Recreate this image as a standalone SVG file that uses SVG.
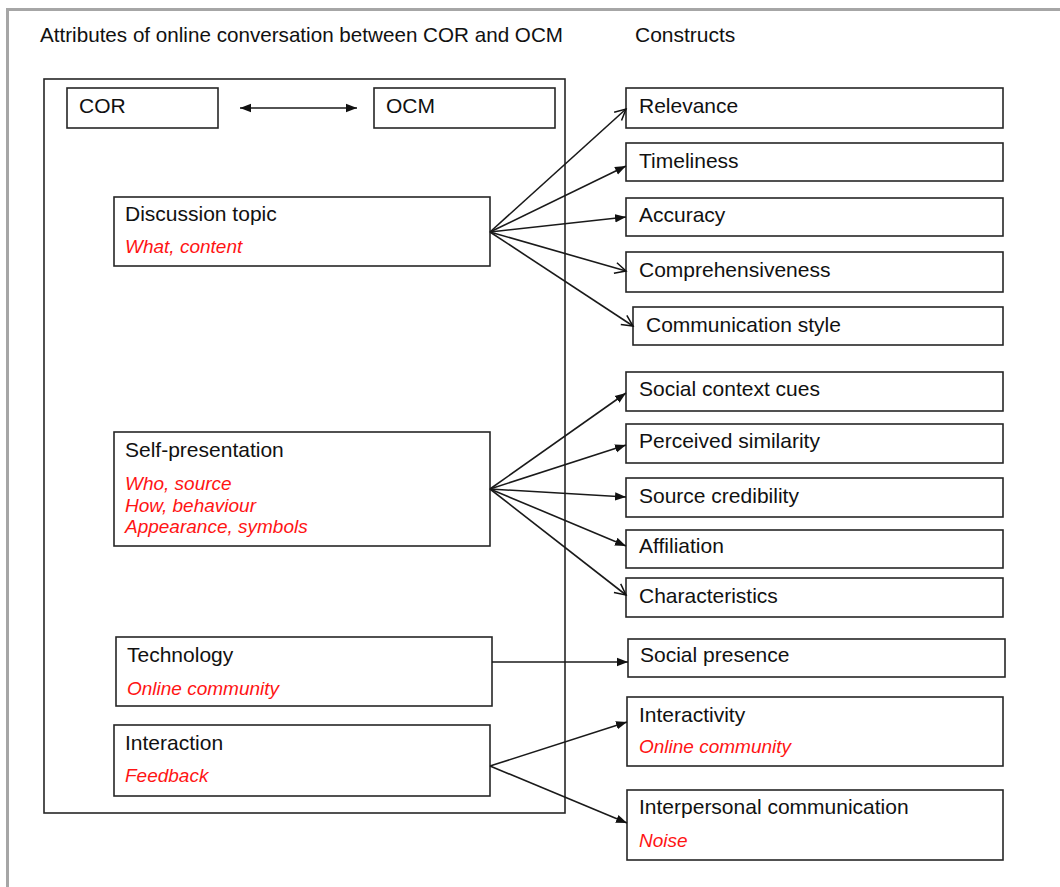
<svg xmlns="http://www.w3.org/2000/svg" width="1060" height="887" viewBox="0 0 1060 887">
  <style>
    .box { fill: #ffffff; stroke: #262626; stroke-width: 1.6; }
    .lbl { font-family: "Liberation Sans", Arial, sans-serif; font-size: 21px; fill: #111111; }
    .sub { font-family: "Liberation Sans", Arial, sans-serif; font-size: 19px; font-style: italic; fill: #ff1414; }
    .edge { fill: none; stroke: #1a1a1a; stroke-width: 1.6; }
    .filled { marker-end: url(#head); }
    .open { marker-end: url(#vhead); }
  </style>
  <defs>
    <marker id="head" markerUnits="userSpaceOnUse" markerWidth="12" markerHeight="10" refX="11" refY="5" orient="auto">
      <path d="M0,0.8 L11,5 L0,9.2 z" fill="#111111"/>
    </marker>
    <marker id="headStart" markerUnits="userSpaceOnUse" markerWidth="12" markerHeight="10" refX="1" refY="5" orient="auto">
      <path d="M12,0.8 L1,5 L12,9.2 z" fill="#111111"/>
    </marker>
    <marker id="vhead" markerUnits="userSpaceOnUse" markerWidth="14" markerHeight="14" refX="12" refY="7" orient="auto">
      <path d="M1,1.5 L12,7 L1,12.5" fill="none" stroke="#111111" stroke-width="1.5"/>
    </marker>
  </defs>

  <rect width="1060" height="887" fill="#ffffff"/>
  <!-- page frame -->
  <path d="M7.5,887 V9.5 H1060" fill="none" stroke="#a6a6a6" stroke-width="3"/>

  <!-- column headings -->
  <text class="lbl" x="40" y="42" textLength="523" lengthAdjust="spacingAndGlyphs">Attributes of online conversation between COR and OCM</text>
  <text class="lbl" x="635" y="42">Constructs</text>

  <!-- attribute container -->
  <rect id="attributes-frame" class="box" x="44" y="79" width="521" height="734" fill="none"/>

  <g id="cor">
    <rect class="box" x="67" y="88" width="151" height="40"/>
    <text class="lbl" x="79" y="113">COR</text>
  </g>
  <g id="ocm">
    <rect class="box" x="374" y="88" width="181" height="40"/>
    <text class="lbl" x="386" y="113">OCM</text>
  </g>

  <g id="discussion-topic">
    <rect class="box" x="114" y="197" width="376" height="69"/>
    <text class="lbl" x="125" y="221">Discussion topic</text>
    <text class="sub" x="125" y="253">What, content</text>
  </g>
  <g id="self-presentation">
    <rect class="box" x="114" y="432" width="376" height="114"/>
    <text class="lbl" x="125" y="457">Self-presentation</text>
    <text class="sub" x="125" y="490">Who, source</text>
    <text class="sub" x="125" y="512">How, behaviour</text>
    <text class="sub" x="125" y="533">Appearance, symbols</text>
  </g>
  <g id="technology">
    <rect class="box" x="116" y="637" width="376" height="69"/>
    <text class="lbl" x="127" y="662">Technology</text>
    <text class="sub" x="127" y="695">Online community</text>
  </g>
  <g id="interaction">
    <rect class="box" x="114" y="725" width="376" height="71"/>
    <text class="lbl" x="125" y="750">Interaction</text>
    <text class="sub" x="125" y="782">Feedback</text>
  </g>

  <!-- constructs -->
  <g id="relevance">
    <rect class="box" x="626" y="88" width="377" height="40"/>
    <text class="lbl" x="639" y="113">Relevance</text>
  </g>
  <g id="timeliness">
    <rect class="box" x="626" y="143" width="377" height="38"/>
    <text class="lbl" x="639" y="168">Timeliness</text>
  </g>
  <g id="accuracy">
    <rect class="box" x="626" y="198" width="377" height="38"/>
    <text class="lbl" x="639" y="222">Accuracy</text>
  </g>
  <g id="comprehensiveness">
    <rect class="box" x="626" y="252" width="377" height="40"/>
    <text class="lbl" x="639" y="277">Comprehensiveness</text>
  </g>
  <g id="communication-style">
    <rect class="box" x="633" y="307" width="370" height="38"/>
    <text class="lbl" x="646" y="332">Communication style</text>
  </g>
  <g id="social-context-cues">
    <rect class="box" x="626" y="372" width="377" height="39"/>
    <text class="lbl" x="639" y="396">Social context cues</text>
  </g>
  <g id="perceived-similarity">
    <rect class="box" x="626" y="424" width="377" height="39"/>
    <text class="lbl" x="639" y="448">Perceived similarity</text>
  </g>
  <g id="source-credibility">
    <rect class="box" x="626" y="478" width="377" height="39"/>
    <text class="lbl" x="639" y="503">Source credibility</text>
  </g>
  <g id="affiliation">
    <rect class="box" x="626" y="530" width="377" height="38"/>
    <text class="lbl" x="639" y="553">Affiliation</text>
  </g>
  <g id="characteristics">
    <rect class="box" x="626" y="578" width="377" height="39"/>
    <text class="lbl" x="639" y="603">Characteristics</text>
  </g>
  <g id="social-presence">
    <rect class="box" x="628" y="639" width="377" height="38"/>
    <text class="lbl" x="640" y="662">Social presence</text>
  </g>
  <g id="interactivity">
    <rect class="box" x="627" y="697" width="376" height="69"/>
    <text class="lbl" x="639" y="722">Interactivity</text>
    <text class="sub" x="639" y="753">Online community</text>
  </g>
  <g id="interpersonal-communication">
    <rect class="box" x="627" y="790" width="376" height="70"/>
    <text class="lbl" x="639" y="814">Interpersonal communication</text>
    <text class="sub" x="639" y="847">Noise</text>
  </g>

  <!-- connectors -->
  <g id="connectors">
    <line class="edge" x1="240" y1="108" x2="357" y2="108" marker-start="url(#headStart)" marker-end="url(#head)"/>

    <line class="edge open" x1="490" y1="232" x2="626" y2="109"/>
    <line class="edge filled" x1="490" y1="232" x2="626" y2="166"/>
    <line class="edge filled" x1="490" y1="232" x2="626" y2="217"/>
    <line class="edge open" x1="490" y1="232" x2="626" y2="271"/>
    <line class="edge open" x1="490" y1="232" x2="633" y2="326"/>

    <line class="edge filled" x1="490" y1="489" x2="626" y2="393"/>
    <line class="edge filled" x1="490" y1="489" x2="626" y2="445"/>
    <line class="edge filled" x1="490" y1="489" x2="626" y2="497"/>
    <line class="edge filled" x1="490" y1="489" x2="626" y2="546"/>
    <line class="edge open" x1="490" y1="489" x2="626" y2="595"/>

    <line class="edge filled" x1="492" y1="662" x2="628" y2="662"/>

    <line class="edge filled" x1="490" y1="766" x2="627" y2="722"/>
    <line class="edge filled" x1="490" y1="766" x2="627" y2="823"/>
  </g>
</svg>
